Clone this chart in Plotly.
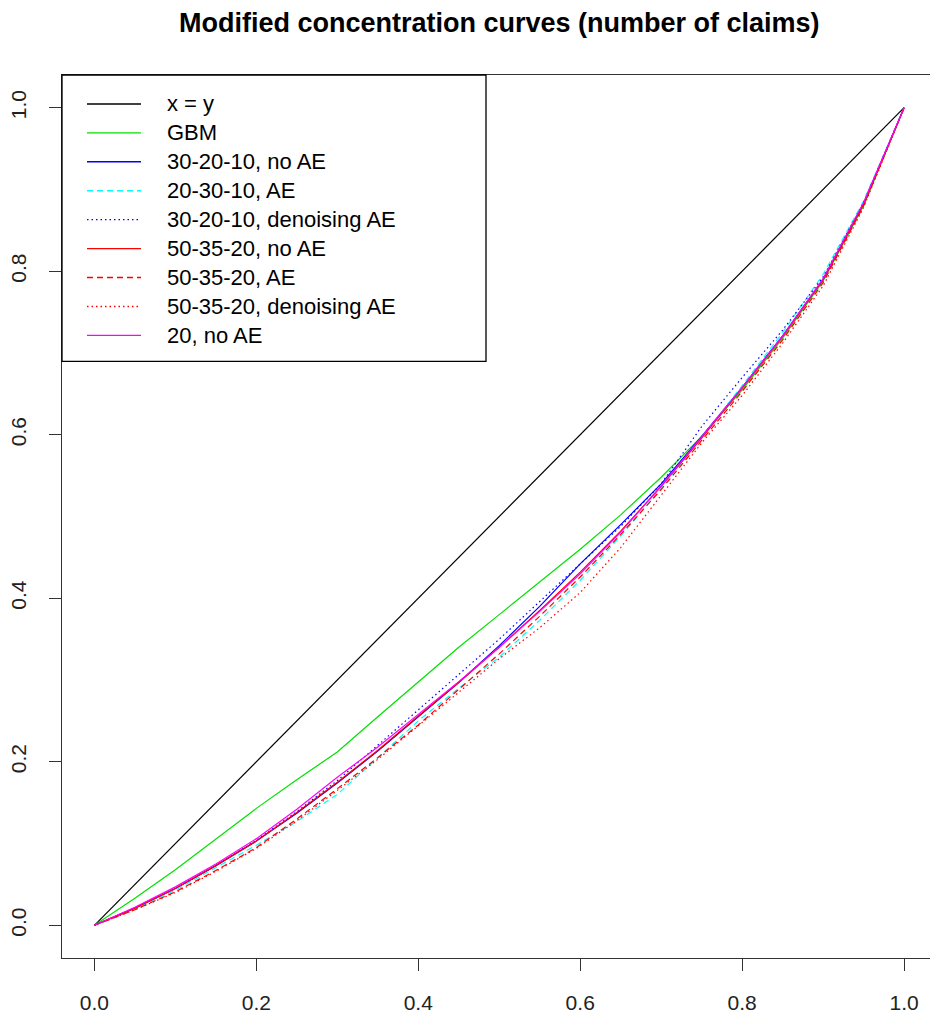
import plotly.graph_objects as go

# Share of exposure (x) against share of claims (y)
x_grid = [0.00, 0.05, 0.10, 0.15, 0.20, 0.25, 0.30, 0.35, 0.40, 0.45, 0.50,
          0.55, 0.60, 0.65, 0.70, 0.75, 0.80, 0.85, 0.90, 0.95, 1.00]

diag_x = [0.0, 1.0]
diag_y = [0.0, 1.0]

gbm = [0.000, 0.033, 0.068, 0.105, 0.143, 0.178, 0.212, 0.255, 0.298, 0.340, 0.380,
       0.420, 0.460, 0.502, 0.548, 0.598, 0.655, 0.718, 0.788, 0.880, 1.000]
nn_302010 = [0.000, 0.021, 0.045, 0.073, 0.103, 0.137, 0.174, 0.213, 0.255, 0.297, 0.342,
             0.390, 0.442, 0.490, 0.540, 0.598, 0.658, 0.721, 0.790, 0.883, 1.000]
ae_203010 = [0.000, 0.020, 0.043, 0.070, 0.098, 0.127, 0.160, 0.205, 0.250, 0.290, 0.328,
             0.373, 0.422, 0.476, 0.534, 0.597, 0.660, 0.725, 0.796, 0.886, 1.000]
dae_302010 = [0.000, 0.021, 0.045, 0.073, 0.104, 0.139, 0.177, 0.220, 0.264, 0.306, 0.350,
              0.396, 0.442, 0.488, 0.540, 0.610, 0.670, 0.728, 0.793, 0.884, 1.000]
nn_503520 = [0.000, 0.021, 0.045, 0.073, 0.103, 0.138, 0.175, 0.214, 0.256, 0.297, 0.340,
             0.385, 0.432, 0.482, 0.537, 0.596, 0.657, 0.720, 0.790, 0.882, 1.000]
ae_503520 = [0.000, 0.019, 0.041, 0.067, 0.095, 0.130, 0.167, 0.205, 0.245, 0.288, 0.332,
             0.378, 0.426, 0.478, 0.533, 0.593, 0.653, 0.716, 0.786, 0.880, 1.000]
dae_503520 = [0.000, 0.019, 0.040, 0.066, 0.094, 0.128, 0.165, 0.203, 0.244, 0.285, 0.326,
              0.364, 0.407, 0.462, 0.526, 0.590, 0.648, 0.712, 0.782, 0.878, 1.000]
nn_20 = [0.000, 0.022, 0.047, 0.075, 0.106, 0.142, 0.181, 0.218, 0.258, 0.298, 0.340,
         0.384, 0.430, 0.481, 0.537, 0.597, 0.658, 0.721, 0.791, 0.884, 1.000]

series_names = ["x = y", "GBM", "30-20-10, no AE", "20-30-10, AE",
                "30-20-10, denoising AE", "50-35-20, no AE", "50-35-20, AE",
                "50-35-20, denoising AE", "20, no AE"]
series_x = [diag_x] + [x_grid] * 8
series_y = [diag_y, gbm, nn_302010, ae_203010, dae_302010,
            nn_503520, ae_503520, dae_503520, nn_20]
series_colors = ["#000000", "#00E000", "#0000FF", "#00FFFF", "#0000FF",
                 "#FF0000", "#FF0000", "#FF0000", "#FF00FF"]
dash_styles = ["solid", "solid", "solid", "6px,4px", "1.5px,3px",
               "solid", "6px,4px", "1.5px,3px", "solid"]

FONT = "Liberation Sans, Arial, sans-serif"

fig = go.Figure()
for name, xs, ys, col, dsh in zip(series_names, series_x, series_y,
                                  series_colors, dash_styles):
    fig.add_trace(go.Scatter(x=xs, y=ys, mode="lines", name=name,
                             line=dict(color=col, width=1.2, dash=dsh),
                             showlegend=False))

# Plot region in pixels: x 62..930, y 75..960
W0, W1, H0, H1 = 62, 930, 75, 960


def px_x(p):
    return (p - W0) / (W1 - W0)


def px_y(p):
    return (H1 - p) / (H1 - H0)


shapes = []
annotations = []

# Legend frame in the top-left corner
shapes.append(dict(type="rect", xref="paper", yref="paper",
                   x0=px_x(62), x1=px_x(486), y0=px_y(362), y1=px_y(75),
                   line=dict(color="#000000", width=1.3), fillcolor="white",
                   layer="above"))
for i, (name, col, dsh) in enumerate(zip(series_names, series_colors, dash_styles)):
    yy = 104 + 29 * i
    shapes.append(dict(type="line", xref="paper", yref="paper",
                       x0=px_x(87), x1=px_x(141), y0=px_y(yy), y1=px_y(yy),
                       line=dict(color=col, width=1.4, dash=dsh), layer="above"))
    annotations.append(dict(text=name, xref="paper", yref="paper",
                            x=px_x(165), y=px_y(yy), xanchor="left",
                            yanchor="middle", showarrow=False,
                            font=dict(family=FONT, size=22, color="#000000")))

# Title
annotations.append(dict(text="<b>Modified concentration curves (number of claims)</b>",
                        xref="paper", yref="paper", x=px_x(499), y=px_y(23),
                        xanchor="center", yanchor="middle", showarrow=False,
                        font=dict(family=FONT, size=27, color="#000000")))

fig.update_layout(
    width=930, height=1014,
    margin=dict(l=62, r=0, t=75, b=54),
    paper_bgcolor="white", plot_bgcolor="white",
    shapes=shapes, annotations=annotations,
    font=dict(family=FONT, size=21, color="#000000"),
)

axis_common = dict(showgrid=False, zeroline=False, showline=True,
                   linecolor="#333333", linewidth=1.3,
                   ticks="outside", ticklen=12, tickwidth=1.2, tickcolor="#333333",
                   tickvals=[0.0, 0.2, 0.4, 0.6, 0.8, 1.0],
                   ticktext=["0.0", "0.2", "0.4", "0.6", "0.8", "1.0"],
                   tickfont=dict(family=FONT, size=21, color="#222222"))

fig.update_xaxes(range=[-0.04, 1.032], mirror=True, ticklabelstandoff=14,
                 **axis_common)
fig.update_yaxes(range=[-0.04, 1.04], mirror=False, tickangle=-90,
                 ticklabelstandoff=14, **axis_common)

fig.write_html("out.html")
